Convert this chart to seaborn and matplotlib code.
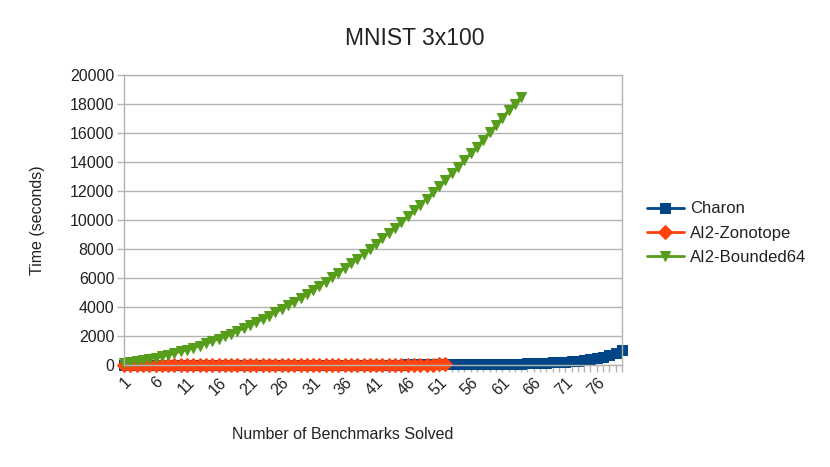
import matplotlib
matplotlib.use('Agg')
import matplotlib.pyplot as plt
import seaborn as sns
import pandas as pd

sns.set_theme(style="white")
plt.rcParams['font.family'] = ['Liberation Sans', 'DejaVu Sans']

# benchmark data
charon = [3, 4, 5, 5, 6, 7, 8, 9, 10, 11,
          12, 13, 14, 15, 16, 17, 18, 19, 20, 21,
          22, 23, 23, 24, 24, 25, 25, 26, 26, 27,
          27, 28, 28, 29, 29, 30, 30, 31, 31, 32,
          32, 33, 33, 34, 34, 35, 35, 36, 36, 37,
          38, 39, 40, 42, 44, 46, 49, 52, 56, 62,
          70, 78, 88, 98, 110, 125, 140, 160, 180, 200,
          225, 255, 300, 350, 410, 480, 560, 660, 800, 1030]
zonotope = [2, 3, 3, 4, 4, 5, 5, 6, 6, 7,
            7, 8, 8, 9, 9, 10, 10, 11, 11, 12,
            12, 13, 13, 14, 14, 15, 15, 16, 16, 17,
            17, 18, 18, 19, 19, 20, 21, 22, 23, 24,
            25, 26, 27, 28, 29, 30, 31, 32, 33, 34,
            36, 38]
bounded64 = [150, 207, 272, 345, 425, 513, 608, 711, 822, 940,
             1066, 1199, 1340, 1489, 1645, 1809, 1980, 2159, 2346, 2540,
             2742, 2951, 3168, 3393, 3625, 3865, 4112, 4367, 4630, 4900,
             5178, 5463, 5756, 6057, 6365, 6681, 7004, 7335, 7674, 8020,
             8374, 8735, 9104, 9481, 9865, 10257, 10656, 11063, 11478, 11900,
             12330, 12767, 13212, 13665, 14125, 14593, 15068, 15551, 16042, 16540,
             17046, 17559, 18020, 18480]

series = {'Charon': charon, 'AI2-Zonotope': zonotope, 'AI2-Bounded64': bounded64}
colors = {'Charon': '#004586', 'AI2-Zonotope': '#ff420e', 'AI2-Bounded64': '#579d1c'}
markers = {'Charon': 's', 'AI2-Zonotope': 'D', 'AI2-Bounded64': 'v'}
msizes = {'Charon': 10.5, 'AI2-Zonotope': 7.5, 'AI2-Bounded64': 11.5}

fig = plt.figure(figsize=(8.3, 4.67), dpi=100)
ax = fig.add_axes([0.1494, 0.2184, 0.6, 0.621])

for name, vals in series.items():
    df = pd.DataFrame({'n': range(1, len(vals) + 1), 'time': vals})
    sns.lineplot(data=df, x='n', y='time', ax=ax, color=colors[name],
                 marker=markers[name], markersize=msizes[name],
                 markeredgecolor=colors[name], linewidth=2, label=name,
                 clip_on=False)

ax.set_xlim(1, 80)
ax.set_ylim(0, 20000)
ax.set_yticks(range(0, 20001, 2000))
ax.set_xticks(range(1, 81))
ax.set_xticklabels([str(i) if (i - 1) % 5 == 0 else '' for i in range(1, 81)],
                   rotation=45, ha='right', rotation_mode='anchor')
ax.tick_params(axis='both', labelsize=11.5, colors='#b3b3b3', labelcolor='#222222',
               length=5, width=1, direction='out', bottom=True, left=True, pad=2)
ax.yaxis.grid(True, color='#b3b3b3', linewidth=1)
ax.xaxis.grid(False)
for s in ax.spines.values():
    s.set_color('#b3b3b3')
    s.set_linewidth(1)

ax.set_xlabel('Number of Benchmarks Solved', fontsize=11.5, color='#222222', labelpad=10)
ax.xaxis.set_label_coords(0.44, -0.215)
ax.set_ylabel('Time (seconds)', fontsize=11.5, color='#222222')
ax.yaxis.set_label_coords(-0.159, 0.5)
fig.text(0.5, 0.918, 'MNIST 3x100', ha='center', va='center', fontsize=16.5, color='#222222')

handles, labels = ax.get_legend_handles_labels()
for h in handles:
    h.set_markersize(7)
ax.legend(handles, labels, loc='center left', bbox_to_anchor=(1.02, 0.455),
          frameon=False, fontsize=12, handlelength=2.2, handletextpad=0.4,
          labelspacing=0.55, labelcolor='#222222')

fig.savefig('out.png', dpi=100)
